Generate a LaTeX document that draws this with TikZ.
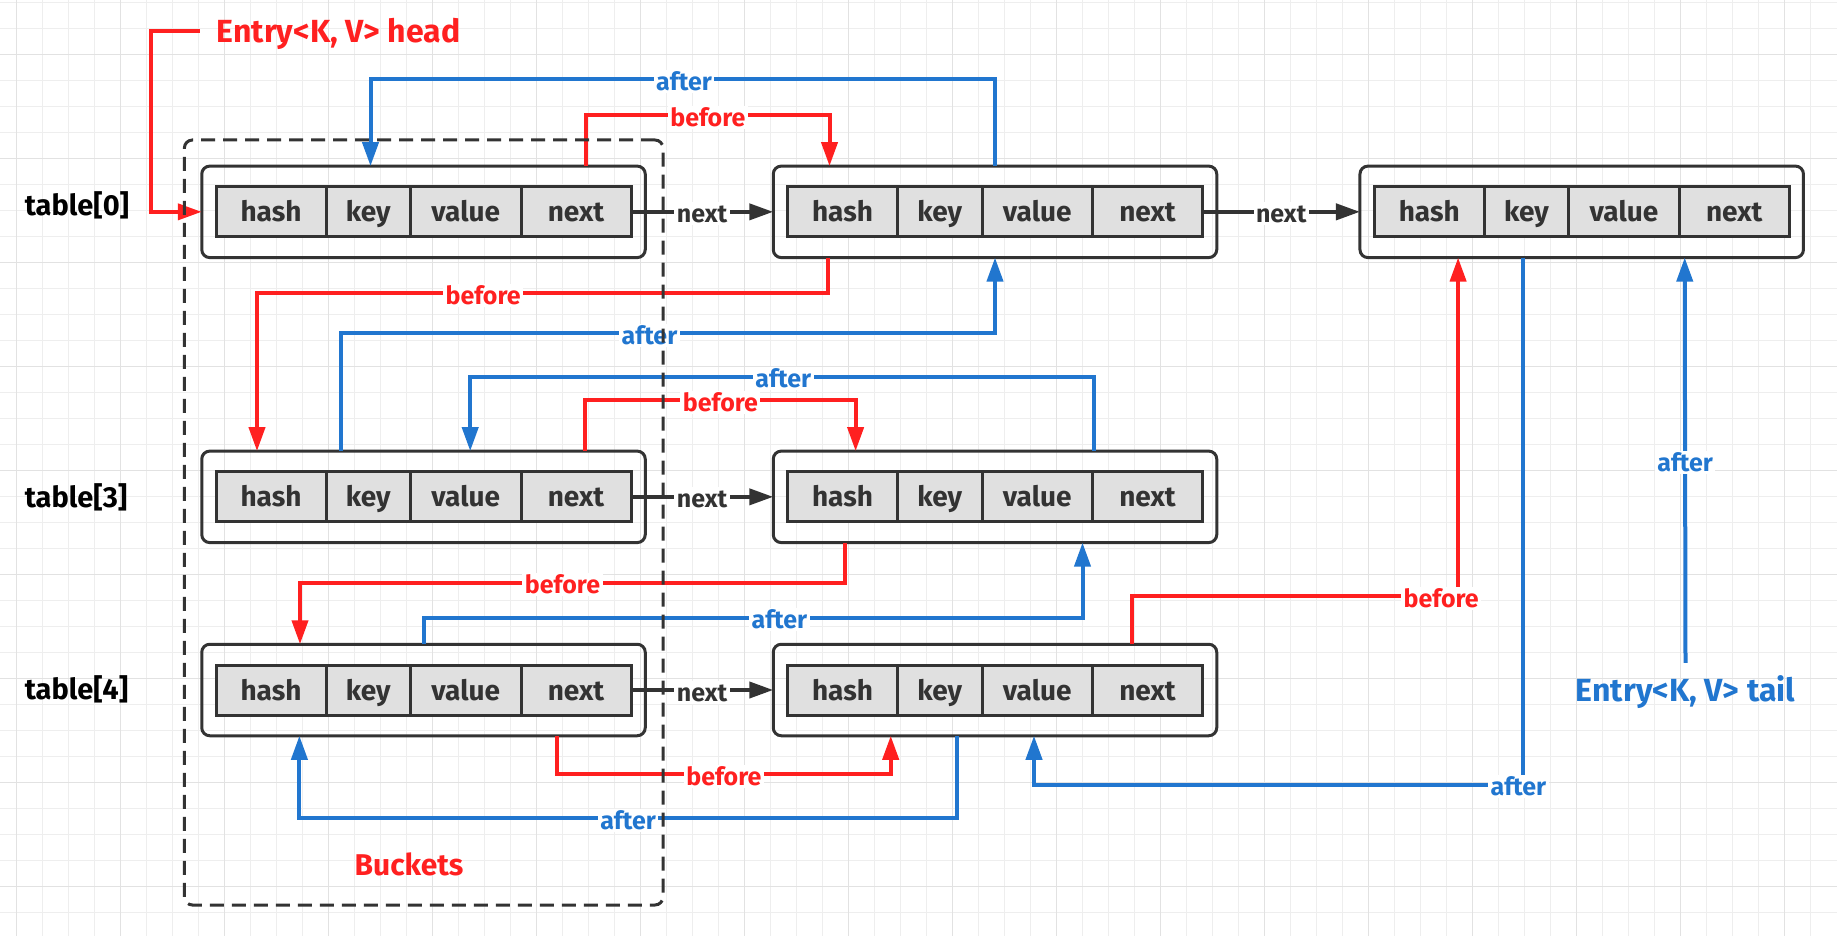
\documentclass[tikz,border=0pt]{standalone}
\usepackage{fontspec}
\setmainfont{Fira Sans}
\usetikzlibrary{arrows.meta,calc}
\definecolor{cred}{RGB}{255,32,32}
\definecolor{cblue}{RGB}{33,118,207}
\definecolor{cdark}{RGB}{51,51,51}
\definecolor{cfill}{RGB}{224,224,224}
\definecolor{gminor}{RGB}{238,238,238}
\definecolor{gmajor}{RGB}{226,226,226}
\newcommand\mkentry[3]{%
  \node[outerbox] (#1) at (#2,#3) {};
  \node[cell, minimum width=110pt]   (#1h) at ([xshift=-152.5pt]#1.center) {hash};
  \node[cell, minimum width=84.5pt]  (#1k) at ([xshift=-55.25pt]#1.center) {key};
  \node[cell, minimum width=110.5pt] (#1v) at ([xshift=42.25pt]#1.center) {value};
  \node[cell, minimum width=110pt]   (#1n) at ([xshift=152.5pt]#1.center) {next};
}
\begin{document}
\begin{tikzpicture}[x=1pt,y=-1pt,
  outerbox/.style={draw=cdark, line width=3pt, rounded corners=8pt, minimum width=443.5pt, minimum height=91.5pt, inner sep=0pt, outer sep=0pt},
  cell/.style={draw=cdark, line width=3pt, fill=cfill, minimum height=50pt, inner sep=0pt, outer sep=0pt, font=\fontsize{28}{32}\selectfont\bfseries, text=cdark, text height=20pt, text depth=0pt},
  conn/.style={line width=4pt, -{Triangle[length=24pt,width=16pt]}},
  redline/.style={conn, draw=cred},
  blueline/.style={conn, draw=cblue},
  nextline/.style={conn, draw=cdark},
  lbl/.style={fill=white, inner sep=2.5pt, yshift=-2pt, font=\fontsize{25}{28}\selectfont\bfseries, text height=18pt, text depth=0pt},
  rlbl/.style={lbl, text=cred},
  blbl/.style={lbl, text=cblue},
  nlbl/.style={lbl, text=cdark},
  tbl/.style={anchor=west, inner sep=0pt, font=\fontsize{29}{32}\selectfont\bfseries, text=black, text height=21pt, text depth=0pt},
  bigtxt/.style={inner sep=0pt, font=\fontsize{32}{36}\selectfont\bfseries, text height=22pt, text depth=0pt},
  gminorline/.style={draw=gminor, line width=1pt},
  gmajorline/.style={draw=gmajor, line width=1pt}
]
\useasboundingbox (0,0) rectangle (1837,936);
\fill[white] (0,0) rectangle (1837,936);
% grid
\foreach \i in {0,...,69} \draw[gminorline] ({16.7+26*\i},0) -- ({16.7+26*\i},936);
\foreach \j in {0,...,35} \draw[gminorline] (0,{2.7+26*\j}) -- (1837,{2.7+26*\j});
\foreach \i in {0,...,17} \draw[gmajorline] ({16.7+104*\i},0) -- ({16.7+104*\i},936);
\foreach \j in {0,...,8} \draw[gmajorline] (0,{54.7+104*\j}) -- (1837,{54.7+104*\j});

% entries
\mkentry{A0}{423.5}{211.85}
\mkentry{B0}{995}{211.85}
\mkentry{C0}{1581.7}{211.85}
\mkentry{A3}{423.5}{496.85}
\mkentry{B3}{995}{496.85}
\mkentry{A4}{423.5}{690}
\mkentry{B4}{995}{690}

% labels
\node[tbl] (t0) at (24.6,205) {table[0]};
\node[tbl] (t3) at (24.6,497) {table[3]};
\node[tbl] (t4) at (24.6,689) {table[4]};
\node[bigtxt, anchor=west, text=cred] (head) at (216.5,31.5) {Entry<K, V> head};
\node[bigtxt, text=cblue] (tail) at (1685.5,690) {Entry<K, V> tail};
\node[bigtxt, text=cred, font=\fontsize{30}{34}\selectfont\bfseries] (bktxt) at (409,864) {Buckets};

% head / tail
\draw[redline] ([xshift=-17pt]head.west) -- ++(-48.5,0) |- (A0.west);
\draw[blueline] ([yshift=16pt]tail.north) -- node[blbl]{after} ([xshift=103pt]C0.south);

% row 0
\draw[blueline] (B0.north) -- ++(0,-87) -| node[blbl,pos=0.249]{after} ([xshift=-53pt]A0.north);
\draw[redline] ([xshift=162.7pt]A0.north) -- ++(0,-51) -| node[rlbl,pos=0.25]{before} ([xshift=-165.5pt]B0.north);
\draw[nextline] (A0n.east) -- node[nlbl]{next} (B0.west);
\draw[nextline] (B0n.east) -- node[nlbl]{next} (C0.west);
\draw[redline] ([xshift=-167pt]B0.south) -- ++(0,35.6) -| node[rlbl,pos=0.302]{before} ([xshift=-166.5pt]A3.north);
\draw[blueline] ([xshift=-82.9pt]A3.north) -- ++(0,-117.7) -| node[blbl,pos=0.236]{after} (B0.south);

% row 3
\draw[blueline] ([xshift=98.8pt]B3.north) -- ++(0,-74.5) -| node[blbl,pos=0.249]{after} ([xshift=46.7pt]A3.north);
\draw[redline] ([xshift=161.8pt]A3.north) -- ++(0,-51) -| node[rlbl,pos=0.25]{before} ([xshift=-139.4pt]B3.north);
\draw[nextline] (A3n.east) -- node[nlbl]{next} (B3.west);
\draw[redline] ([xshift=-150.4pt]B3.south) -- ++(0,40) -| node[rlbl,pos=0.259]{before} ([xshift=-123.5pt]A4.north);
\draw[blueline] (A4.north) -- ++(0,-26.5) -| node[blbl,pos=0.27]{after} ([xshift=87.5pt]B3.south);

% row 4
\draw[redline] ([xshift=136.9pt]B4.north) -- ++(0,-48) -| node[rlbl,pos=0.474]{before} ([xshift=-123.6pt]C0.south);
\draw[nextline] (A4n.east) -- node[nlbl]{next} (B4.west);
\draw[redline] ([xshift=133.5pt]A4.south) -- ++(0,38.3) -| node[rlbl,pos=0.25]{before} ([xshift=-104.3pt]B4.south);
\draw[blueline] ([xshift=-38.2pt]B4.south) -- ++(0,82.6) -| node[blbl,pos=0.25]{after} ([xshift=-124.1pt]A4.south);
\draw[blueline] ([xshift=-58.4pt]C0.south) -- ++(0,527) -| node[blbl,pos=0.005]{after} ([xshift=39pt]B4.south);

% buckets container
\node[draw=cdark, line width=3pt, dash pattern=on 14pt off 8pt, rounded corners=8pt, minimum width=478.6pt, minimum height=765pt, inner sep=0pt] (buckets) at (423.7,522.5) {};
\end{tikzpicture}
\end{document}
